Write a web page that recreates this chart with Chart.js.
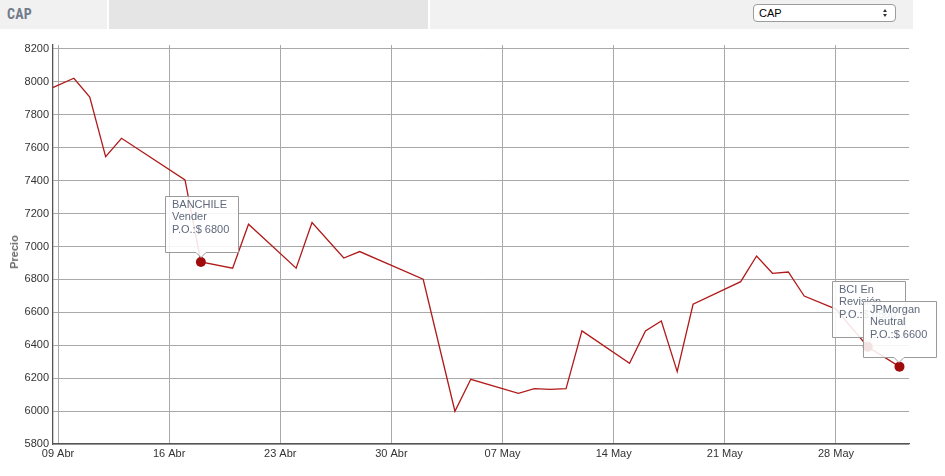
<!DOCTYPE html>
<html><head><meta charset="utf-8">
<script src="https://cdn.jsdelivr.net/npm/chart.js@4.4.1/dist/chart.umd.min.js"></script>
<style>
html,body{margin:0;padding:0;background:#fff;width:945px;height:476px;overflow:hidden;font-family:Arial,"Liberation Sans",sans-serif;}
#wrap{position:absolute;left:0;top:0;width:945px;height:476px;}
#hdr{position:absolute;left:0;top:0;width:913px;height:29px;background:#f1f1f1;z-index:2;}
#ttl{position:absolute;left:7px;top:6px;font:bold 14px "Liberation Sans Narrow","Roboto Condensed",Arial,sans-serif;color:#707a8a;letter-spacing:0.2px;}
#tab{position:absolute;left:107px;top:0;width:319px;height:29px;background:#e5e5e5;border-left:2px solid #fff;border-right:2px solid #fff;}
#sel{position:absolute;left:753px;top:4px;width:141px;height:16px;background:#fff;border:1px solid #9c9c9c;border-radius:4px;font:11px Arial,"Liberation Sans",sans-serif;color:#000;line-height:16px;}
#sel span{position:absolute;left:5px;top:0;}
#sel i{position:absolute;right:8px;width:0;height:0;border-left:2.5px solid transparent;border-right:2.5px solid transparent;}
#sel i.up{top:4px;border-bottom:3px solid #333;}
#sel i.dn{top:9px;border-top:3px solid #333;}
#ytitle{position:absolute;left:14px;top:251.5px;transform:translate(-50%,-50%) rotate(-90deg);font:bold 11px Arial,"Liberation Sans",sans-serif;color:#6a6a6a;white-space:nowrap;z-index:3;}
</style></head>
<body>
<div id="wrap"><canvas id="c" width="945" height="476"></canvas></div>
<div id="hdr"><div id="ttl">CAP</div><div id="tab"></div>
<div id="sel"><span>CAP</span><i class="up"></i><i class="dn"></i></div></div>
<div id="ytitle">Precio</div>
<script>
// ---- data ----
// x = days since 09 Abr (Monday ticks every 7 days)
const tickLabels = ['09 Abr','16 Abr','23 Abr','30 Abr','07 May','14 May','21 May','28 May'];
const xTickDays  = [0, 7, 14, 21, 28, 35, 42, 49];
const yTicks     = [5800, 6000, 6200, 6400, 6600, 6800, 7000, 7200, 7400, 7600, 7800, 8000, 8200];
const days   = [-3, 1, 2, 3, 4, 8, 9, 11, 12, 15, 16, 18, 19, 23, 25, 26, 29, 30, 31, 32, 33, 36, 37, 38, 39, 40, 43, 44, 45, 46, 47, 49, 51, 53];
const prices = [7850, 8022, 7907, 7546, 7657, 7404, 6906, 6868, 7135, 6868, 7145, 6930, 6969, 6801, 5999, 6193, 6108, 6136, 6132, 6136, 6487, 6290, 6487, 6547, 6240, 6649, 6786, 6942, 6837, 6845, 6699, 6620, 6391, 6270];
const noteDays  = [9, 51, 53];
const noteLines = [
  ['BANCHILE', 'Vender', 'P.O.:$ 6800'],
  ['BCI En', 'Revisión', 'P.O.:$ 6500'],
  ['JPMorgan', 'Neutral', 'P.O.:$ 6600']
];
const yLabel = 'Precio';

const points = days.map((d, i) => ({x: d, y: prices[i]}));

const notesPlugin = {
  id: 'notes',
  afterDatasetsDraw(chart) {
    const ctx = chart.ctx;
    const meta = chart.getDatasetMeta(0);
    noteDays.forEach((d, k) => {
      const idx = days.indexOf(d);
      const el = meta.data[idx];
      const px = Math.round(el.x), py = Math.round(el.y);
      const bx = px - 35.5, by = py - 65.5, bw = 73, bh = 56;
      ctx.save();
      ctx.beginPath();
      ctx.moveTo(bx, by);
      ctx.lineTo(bx + bw, by);
      ctx.lineTo(bx + bw, by + bh);
      ctx.lineTo(px + 5, by + bh);
      ctx.lineTo(px, by + bh + 5);
      ctx.lineTo(px - 5, by + bh);
      ctx.lineTo(bx, by + bh);
      ctx.closePath();
      ctx.fillStyle = 'rgba(255,255,255,0.88)';
      ctx.fill();
      ctx.strokeStyle = '#9a9a9a';
      ctx.lineWidth = 1;
      ctx.stroke();
      ctx.fillStyle = '#5f697c';
      ctx.font = '11px Arial, "Liberation Sans", sans-serif';
      ctx.textBaseline = 'alphabetic';
      ctx.textAlign = 'left';
      noteLines[k].forEach((t, j) => ctx.fillText(t, bx + 6.5, by + 11 + j * 12.8));
      ctx.restore();
    });
  }
};

new Chart(document.getElementById('c'), {
  type: 'line',
  data: {
    datasets: [{
      data: points,
      borderColor: '#b01a1a',
      borderWidth: 1.3,
      tension: 0,
      fill: false,
      pointRadius: c => noteDays.includes(days[c.dataIndex]) ? 5 : 0,
      pointHoverRadius: c => noteDays.includes(days[c.dataIndex]) ? 5 : 0,
      pointBackgroundColor: '#a00c0c',
      pointBorderColor: '#a00c0c',
      pointBorderWidth: 0
    }]
  },
  options: {
    responsive: false,
    devicePixelRatio: 1,
    animation: false,
    events: [],
    layout: {padding: {top: 45, right: 36, bottom: 0, left: 0}},
    plugins: {legend: {display: false}, tooltip: {enabled: false}},
    scales: {
      x: {
        type: 'linear',
        min: -0.315,
        max: 53.6,
        afterFit: s => { s.height = 32; },
        afterBuildTicks: s => { s.ticks = xTickDays.map(v => ({value: v})); },
        grid: {color: '#a9a9a9', lineWidth: 1, drawTicks: false},
        border: {display: true, color: '#555', width: 1.3},
        ticks: {
          autoSkip: false, maxRotation: 0,
          padding: 3, color: '#333', font: {family: 'Arial, "Liberation Sans", sans-serif', size: 11},
          callback: v => tickLabels[xTickDays.indexOf(v)] || ''
        }
      },
      y: {
        min: 5800,
        max: 8224,
        afterFit: s => { s.width = 53; },
        afterBuildTicks: s => { s.ticks = yTicks.map(v => ({value: v})); },
        grid: {color: '#a9a9a9', lineWidth: 1, drawTicks: false},
        border: {display: true, color: '#555', width: 1.3},
        ticks: {
          padding: 4, color: '#333',
          font: {family: 'Arial, "Liberation Sans", sans-serif', size: 11},
          callback: v => String(v)
        }
      }
    }
  },
  plugins: [notesPlugin]
});
document.getElementById('ytitle').textContent = yLabel;
</script>
</body></html>
